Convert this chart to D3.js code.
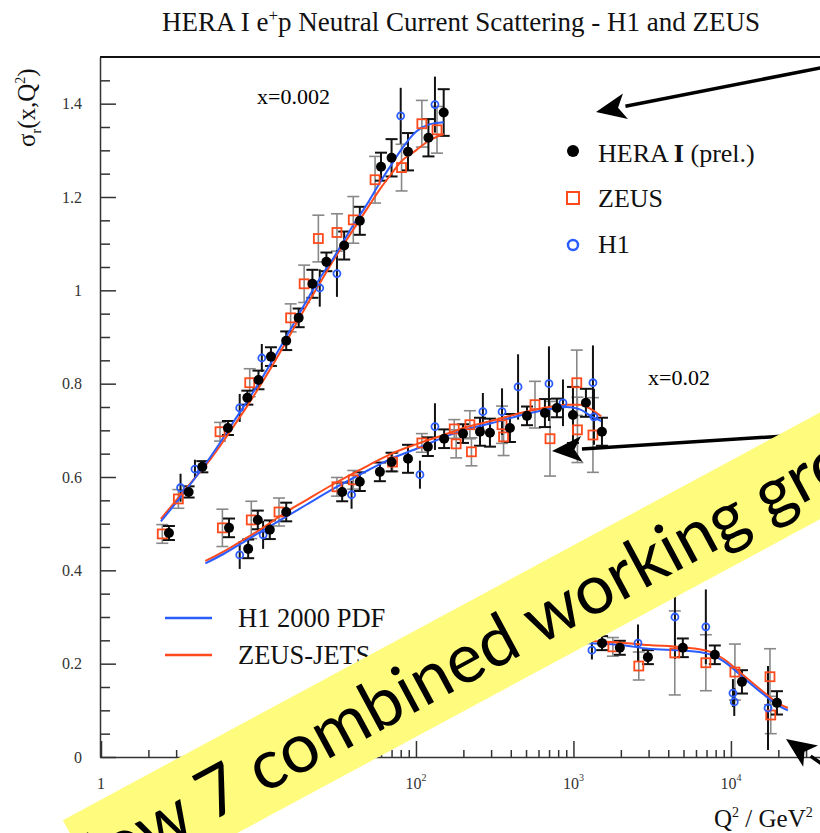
<!DOCTYPE html>
<html><head><meta charset="utf-8">
<script src="https://cdn.jsdelivr.net/npm/d3@7"></script>
<style>body{margin:0;background:#fff}svg{display:block}</style>
</head><body>
<svg id="c" width="820" height="833"></svg>
<script>
// ---------- data: [Q2, sigma_r, error] ----------
const binLabels = ["x=0.002", "x=0.02"];
const hera002 = [[2.7,0.480,0.015],[3.6,0.568,0.012],[4.4,0.622,0.012],[6.4,0.705,0.015],[8.5,0.770,0.015],[10,0.808,0.02],[12,0.858,0.02],[15,0.892,0.02],[18,0.941,0.02],[22,1.014,0.03],[27,1.061,0.02],[35,1.096,0.03],[44,1.149,0.03],[60,1.265,0.03],[70,1.284,0.04],[89,1.297,0.04],[120,1.327,0.04],[150,1.381,0.05]];
const zeus002 = [[2.45,0.478,0.02],[3.1,0.553,0.02],[5.7,0.697,0.02],[8.8,0.802,0.03],[16,0.941,0.03],[19.5,1.014,0.04],[24,1.111,0.05],[31.5,1.124,0.04],[40,1.151,0.05],[55,1.237,0.05],[81,1.263,0.05],[109,1.357,0.05],[136,1.344,0.05]];
const h1002 = [[3.2,0.577,0.03],[3.95,0.617,0.02],[7.6,0.748,0.03],[10.5,0.855,0.03],[24.5,1.005,0.04],[31.5,1.036,0.05],[80,1.374,0.06],[132,1.398,0.06]];
const hera02 = [[6.5,0.491,0.02],[8.6,0.446,0.02],[9.9,0.508,0.02],[11.8,0.487,0.02],[15,0.525,0.02],[34,0.568,0.02],[44,0.59,0.02],[59,0.611,0.02],[70,0.632,0.02],[89,0.639,0.03],[119,0.665,0.02],[151,0.682,0.02],[199,0.693,0.02],[255,0.697,0.03],[295,0.695,0.03],[395,0.705,0.03],[507,0.731,0.02],[659,0.737,0.03],[785,0.748,0.02],[993,0.733,0.06],[1200,0.759,0.03],[1517,0.697,0.03]];
const zeus02 = [[5.9,0.491,0.04],[9,0.508,0.04],[13.5,0.525,0.03],[31.5,0.579,0.02],[40,0.594,0.02],[71,0.632,0.02],[109,0.673,0.02],[175,0.703,0.02],[180,0.671,0.03],[220,0.712,0.03],[225,0.654,0.03],[352,0.712,0.04],[360,0.686,0.04],[570,0.755,0.05],[710,0.682,0.08],[1050,0.802,0.07],[1060,0.701,0.07],[1330,0.690,0.08]];
const h102 = [[7.6,0.433,0.03],[10.7,0.476,0.03],[39,0.562,0.03],[106,0.605,0.03],[132,0.708,0.05],[266,0.740,0.04],[352,0.740,0.05],[445,0.793,0.07],[699,0.800,0.08],[858,0.759,0.05],[1330,0.802,0.08],[1350,0.729,0.06]];
const hera25 = [[1520,0.244,0.015],[1970,0.234,0.015],[2970,0.214,0.015],[4950,0.234,0.02],[7900,0.219,0.02],[11750,0.161,0.025],[19600,0.116,0.025]];
const zeus25 = [[1780,0.236,0.02],[2600,0.195,0.03],[4400,0.223,0.09],[6930,0.202,0.06],[10600,0.182,0.06],[17700,0.172,0.06],[17900,0.090,0.04]];
const h125 = [[1310,0.229,0.02],[2570,0.244,0.04],[4410,0.300,0.09],[6930,0.279,0.08],[10300,0.137,0.03],[10500,0.118,0.03],[17200,0.105,0.09]];
// fit curves: [Q2, sigma_r]
const h1pdf002 = [[2.4,0.505],[3,0.545],[4,0.60],[5,0.645],[7,0.72],[10,0.80],[15,0.90],[20,0.975],[25,1.03],[30,1.07],[40,1.14],[50,1.19],[60,1.235],[70,1.27],[80,1.30],[100,1.34],[120,1.355],[150,1.36]];
const zjets002 = [[2.4,0.51],[3,0.55],[4,0.60],[5,0.64],[7,0.71],[10,0.79],[15,0.89],[20,0.965],[25,1.02],[30,1.065],[40,1.13],[50,1.18],[60,1.22],[70,1.25],[80,1.275],[100,1.30],[120,1.32],[150,1.335]];
const h1pdf02 = [[4.6,0.415],[6,0.435],[8,0.46],[10,0.48],[15,0.515],[20,0.54],[30,0.575],[50,0.615],[70,0.64],[100,0.66],[150,0.685],[200,0.70],[300,0.715],[500,0.735],[700,0.745],[900,0.75],[1100,0.745],[1300,0.73],[1500,0.72]];
const zjets02 = [[4.6,0.42],[6,0.44],[8,0.465],[10,0.485],[15,0.525],[20,0.55],[30,0.585],[50,0.625],[70,0.65],[100,0.67],[150,0.69],[200,0.705],[300,0.72],[500,0.74],[700,0.75],[900,0.755],[1100,0.755],[1300,0.745],[1500,0.73]];
const h1pdf25 = [[1000,0.245],[2000,0.24],[3000,0.232],[5000,0.228],[7000,0.222],[9000,0.205],[12000,0.17],[16000,0.135],[20000,0.11],[23000,0.10]];
const zjets25 = [[1000,0.25],[2000,0.245],[3000,0.24],[5000,0.235],[7000,0.228],[9000,0.21],[12000,0.175],[16000,0.14],[20000,0.115],[23000,0.105]];
const yMajor = [0,0.2,0.4,0.6,0.8,1,1.2,1.4];
const xMajor = [1,10,100,1000,10000];
const xMajorLabels = [["1",""],["10",""],["10","2"],["10","3"],["10","4"]];
const legendPoints = ["HERA I (prel.)", "ZEUS", "H1"];
const legendLines = ["H1 2000 PDF", "ZEUS-JETS"];
const bannerText = "Now 7 combined working groups";

// ---------- drawing ----------
const svg = d3.select("#c");
const x = d3.scaleLog().domain([1, 5e4]).range([101, 841]);
const y = d3.scaleLinear().domain([0, 1.5]).range([757, 57]);
const serif = "'Liberation Serif','Times New Roman',serif";
const BLUE = "#2b5cff", RED = "#ff4a1c";

// title
const t = svg.append("text").attr("x", 461).attr("y", 31).attr("text-anchor","middle")
  .attr("font-family", serif).attr("font-size", 27).attr("fill","#111");
t.append("tspan").text("HERA I e");
t.append("tspan").attr("font-size", 17).attr("dy", -10).text("+");
t.append("tspan").attr("dy", 10).text("p Neutral Current Scattering - H1 and ZEUS");

// frame top line
svg.append("line").attr("x1", 100).attr("x2", 841).attr("y1", y(1.5)).attr("y2", y(1.5))
  .attr("stroke","#111").attr("stroke-width",2);

// x axis
const xMinor = [];
for (let d = 1; d < 5e4; d *= 10) for (let k = 2; k <= 9; k++) if (d*k <= 5e4) xMinor.push(d*k);
const gx = svg.append("g").attr("transform", `translate(0,${y(0)})`);
gx.call(d3.axisBottom(x).tickValues(xMajor).tickSize(-16).tickSizeOuter(0).tickFormat(""));
gx.append("g").call(d3.axisBottom(x).tickValues(xMinor).tickSize(-7).tickFormat("")).select(".domain").remove();
gx.selectAll("path,line").attr("stroke","#333").attr("stroke-width",1.5);
xMajor.forEach((v,i) => {
  const tx = svg.append("text").attr("x", x(v)).attr("y", 789).attr("text-anchor","middle")
    .attr("font-family", serif).attr("font-size", 16).attr("fill","#333");
  tx.append("tspan").text(xMajorLabels[i][0]);
  if (xMajorLabels[i][1]) tx.append("tspan").attr("font-size",10).attr("dy",-8).text(xMajorLabels[i][1]);
});

// y axis
const yMinor = d3.range(0.05, 1.5, 0.05).filter(v => Math.abs(v*5 - Math.round(v*5)) > 1e-6);
const gy = svg.append("g").attr("transform", `translate(100,0)`);
gy.call(d3.axisLeft(y).tickValues(yMajor).tickSize(-16).tickSizeOuter(0).tickPadding(18)
  .tickFormat(d => d === 0 ? "0" : d === 1 ? "1" : d.toFixed(1)));
gy.append("g").call(d3.axisLeft(y).tickValues(yMinor).tickSize(-10).tickFormat("")).select(".domain").remove();
gy.selectAll("path,line").attr("stroke","#333").attr("stroke-width",1.5);
gy.selectAll("text").attr("font-family", serif).attr("font-size", 16).attr("fill","#333");

// axis titles
const yl = svg.append("text").attr("transform","translate(35,147) rotate(-90)")
  .attr("font-family", serif).attr("font-size", 25).attr("fill","#111");
yl.append("tspan").text("σ");
yl.append("tspan").attr("font-size",14).attr("dy",6).text("r");
yl.append("tspan").attr("dy",-6).text("(x,Q");
yl.append("tspan").attr("font-size",14).attr("dy",-10).text("2");
yl.append("tspan").attr("dy",10).text(")");
const xl = svg.append("text").attr("x", 714).attr("y", 827)
  .attr("font-family", serif).attr("font-size", 25).attr("fill","#111");
xl.append("tspan").text("Q");
xl.append("tspan").attr("font-size",14).attr("dy",-10).text("2");
xl.append("tspan").attr("dy",10).text(" / GeV");
xl.append("tspan").attr("font-size",14).attr("dy",-10).text("2");

// bin labels
svg.append("text").attr("x", 257).attr("y", 104).attr("font-family", serif).attr("font-size", 22).text(binLabels[0]);
svg.append("text").attr("x", 648).attr("y", 385).attr("font-family", serif).attr("font-size", 22).text(binLabels[1]);

const plot = svg.append("g");
function errBars(data, color, cap, w) {
  const g = plot.append("g").attr("stroke", color).attr("stroke-width", w);
  data.forEach(d => {
    g.append("line").attr("x1", x(d[0])).attr("x2", x(d[0])).attr("y1", y(d[1]-d[2])).attr("y2", y(d[1]+d[2]));
    if (cap) {
      [d[1]-d[2], d[1]+d[2]].forEach(v => g.append("line").attr("x1", x(d[0])-cap).attr("x2", x(d[0])+cap).attr("y1", y(v)).attr("y2", y(v)));
    }
  });
}
const zeusAll = [zeus002, zeus02, zeus25], h1All = [h1002, h102, h125], heraAll = [hera002, hera02, hera25];
zeusAll.forEach(s => errBars(s, "#888", 6, 1.6));
h1All.forEach(s => errBars(s, "#111", 0, 2));
heraAll.forEach(s => errBars(s, "#111", 6, 2));

const line = d3.line().x(d => x(d[0])).y(d => y(d[1])).curve(d3.curveMonotoneX);
[zjets002, zjets02, zjets25].forEach(s => plot.append("path").attr("d", line(s)).attr("fill","none").attr("stroke", RED).attr("stroke-width", 2));
[h1pdf002, h1pdf02, h1pdf25].forEach(s => plot.append("path").attr("d", line(s)).attr("fill","none").attr("stroke", BLUE).attr("stroke-width", 2));

zeusAll.forEach(s => plot.append("g").selectAll("rect").data(s).join("rect")
  .attr("x", d => x(d[0])-4.5).attr("y", d => y(d[1])-4.5).attr("width", 9).attr("height", 9)
  .attr("fill","none").attr("stroke", RED).attr("stroke-width", 1.8));
h1All.forEach(s => plot.append("g").selectAll("circle").data(s).join("circle")
  .attr("cx", d => x(d[0])).attr("cy", d => y(d[1])).attr("r", 3.5)
  .attr("fill","none").attr("stroke", BLUE).attr("stroke-width", 1.8));
heraAll.forEach(s => plot.append("g").selectAll("circle").data(s).join("circle")
  .attr("cx", d => x(d[0])).attr("cy", d => y(d[1])).attr("r", 5).attr("fill","#000"));

// legends
svg.append("circle").attr("cx", 573).attr("cy", 151).attr("r", 6).attr("fill","#000");
svg.append("rect").attr("x", 567).attr("y", 192).attr("width", 12).attr("height", 12).attr("fill","none").attr("stroke", RED).attr("stroke-width", 2);
svg.append("circle").attr("cx", 573).attr("cy", 245).attr("r", 5).attr("fill","none").attr("stroke", BLUE).attr("stroke-width", 2.5);
const lt = svg.append("text").attr("x", 598).attr("y", 162).attr("font-family", serif).attr("font-size", 26).attr("fill","#111");
lt.append("tspan").text("HERA ");
lt.append("tspan").attr("font-weight","bold").text("I");
lt.append("tspan").text(" (prel.)");
svg.append("text").attr("x", 598).attr("y", 207).attr("font-family", serif).attr("font-size", 26).attr("fill","#111").text(legendPoints[1]);
svg.append("text").attr("x", 598).attr("y", 253).attr("font-family", serif).attr("font-size", 26).attr("fill","#111").text(legendPoints[2]);
svg.append("line").attr("x1",165).attr("x2",212).attr("y1",618).attr("y2",618).attr("stroke",BLUE).attr("stroke-width",2.5);
svg.append("line").attr("x1",165).attr("x2",212).attr("y1",655).attr("y2",655).attr("stroke",RED).attr("stroke-width",2.5);
svg.append("text").attr("x", 238).attr("y", 627).attr("font-family", serif).attr("font-size", 26.5).attr("fill","#111").text(legendLines[0]);
svg.append("text").attr("x", 238).attr("y", 664).attr("font-family", serif).attr("font-size", 26.5).attr("fill","#111").text(legendLines[1]);

// arrows
function arrow(x1, y1, x2, y2) {
  const a = Math.atan2(y2-y1, x2-x1), L = 30, W = 13;
  const bx = x2 - L*Math.cos(a), by = y2 - L*Math.sin(a);
  svg.append("line").attr("x1",x1).attr("y1",y1).attr("x2",bx).attr("y2",by).attr("stroke","#000").attr("stroke-width",3.5);
  svg.append("path").attr("d", `M${x2},${y2}L${bx - W*Math.sin(a)},${by + W*Math.cos(a)}L${x2 - 0.75*L*Math.cos(a)},${y2 - 0.75*L*Math.sin(a)}L${bx + W*Math.sin(a)},${by - W*Math.cos(a)}Z`).attr("fill","#000");
}
arrow(830, 66, 596, 112);
arrow(830, 433, 552, 451);
arrow(852, 785, 786, 739);

// banner
const b = svg.append("g").attr("transform","translate(440,670.5) rotate(-28.3)");
b.append("rect").attr("x",-403).attr("y",-47).attr("width",1300).attr("height",94).attr("fill","#fffb7c");
b.append("text").attr("x",-433).attr("y",25).attr("font-family","Lato,'Open Sans',sans-serif").attr("font-size",69).attr("fill","#000").text(bannerText);
</script>
</body></html>
